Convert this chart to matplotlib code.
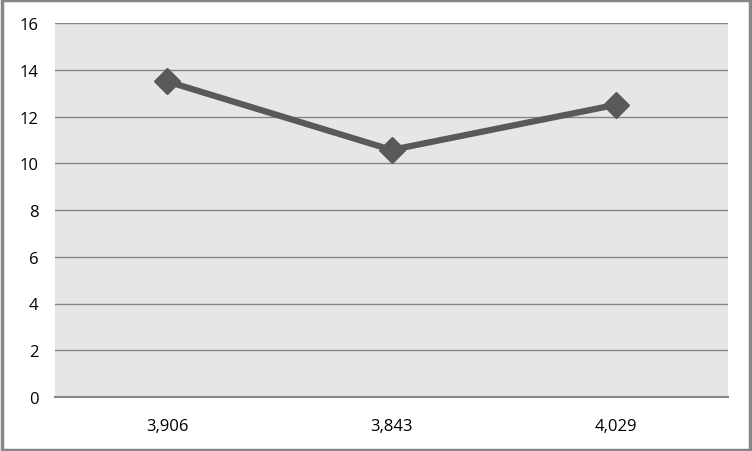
import matplotlib

matplotlib.use("Agg")
import matplotlib.pyplot as plt
from matplotlib.patches import Rectangle

categories = ["3,906", "3,843", "4,029"]
values = [13.5, 10.57, 12.5]
y_ticks = [0, 2, 4, 6, 8, 10, 12, 14, 16]

plt.rcParams["font.family"] = ["Open Sans", "DejaVu Sans"]

fig = plt.figure(figsize=(7.52, 4.52), dpi=100)
ax = fig.add_axes([55 / 752, 1 - 398 / 452, 673 / 752, 374 / 452])
ax.set_facecolor("#E6E6E6")

x = list(range(len(categories)))
ax.plot(x, values, color="#595959", lw=4.5, marker="D", ms=13,
        solid_joinstyle="miter", zorder=3)

ax.set_xlim(-0.5, len(categories) - 0.5)
ax.set_ylim(0, 16)
ax.set_yticks(y_ticks)
ax.set_yticklabels([str(t) for t in y_ticks])
ax.set_xticks(x)
ax.set_xticklabels(categories)
ax.tick_params(length=0, labelsize=12, colors="black")
ax.tick_params(axis="y", pad=12)
ax.tick_params(axis="x", pad=15)
ax.grid(axis="y", color="#868686", lw=1)
ax.set_axisbelow(True)
for side in ("top", "right", "left"):
    ax.spines[side].set_visible(False)
ax.spines["bottom"].set_color("#868686")
ax.spines["bottom"].set_linewidth(1.5)

# chart border
fig.patches.append(Rectangle((0.002, 0.003), 0.996, 0.994, transform=fig.transFigure,
                             fill=False, ec="#868686", lw=2.5))

fig.savefig("out.png", dpi=100)
